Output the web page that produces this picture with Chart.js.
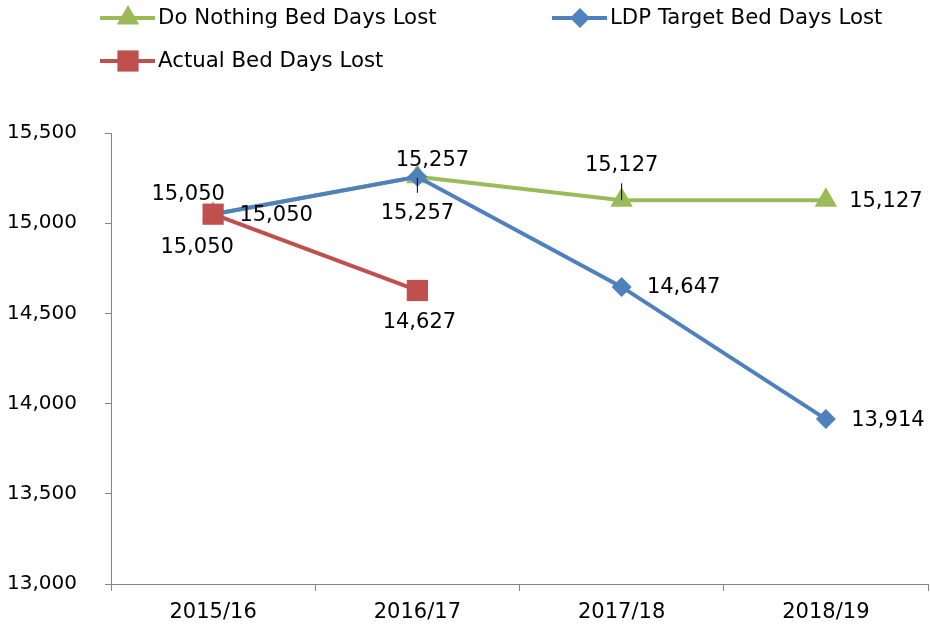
<html>
  <head>
    <meta charset="utf-8" />
    <title>Bed Days Lost</title>
    <script src="https://cdn.jsdelivr.net/npm/chart.js@4/dist/chart.umd.min.js"></script>
    <style>
      html, body {
        margin: 0;
        padding: 0;
        background: white;
        overflow: hidden;
      }
      #wrap {
        width: 930px;
        height: 633px;
      }
      canvas {
        display: block;
      }
    </style>
  </head>
  <body>
    <div id="wrap"><canvas id="bedChart"></canvas></div>

    <script>
      // data
      var years = ["2015/16", "2016/17", "2017/18", "2018/19"];
      var doNothing = [15050, 15257, 15127, 15127];
      var ldpTarget = [15050, 15257, 14647, 13914];
      var actual = [15050, 14627, null, null];
      var yTicks = [13000, 13500, 14000, 14500, 15000, 15500];

      var green = "#9BBB59";
      var blue = "#4F81BD";
      var red = "#C0504D";
      var font = "DejaVu Sans";

      // where each value label sits relative to its point (px), plus optional leader line
      var labelOffsets = [
        [{ dx: -25, dy: -20 }, { dx: 0, dy: 37, lead: [1, 16] }, { dx: 0, dy: -35, lead: [-17, 0] }, { dx: 60, dy: 1 }],
        [{ dx: 63, dy: 1 }, { dx: 15, dy: -16 }, { dx: 62, dy: 1 }, { dx: 62, dy: 1 }],
        [{ dx: -16, dy: 33 }, { dx: 2, dy: 32 }, null, null]
      ];

      function fmt(v) {
        return v.toLocaleString("en-US");
      }

      // value labels drawn at the library's point positions
      var valueLabels = {
        id: "valueLabels",
        afterDatasetsDraw: function (chart) {
          var ctx = chart.ctx;
          ctx.save();
          ctx.font = "21px '" + font + "'";
          ctx.fillStyle = "#000";
          ctx.textAlign = "center";
          ctx.textBaseline = "middle";
          chart.data.datasets.forEach(function (ds, di) {
            var meta = chart.getDatasetMeta(di);
            meta.data.forEach(function (pt, i) {
              var v = ds.data[i];
              var off = labelOffsets[di][i];
              if (v == null || !off) return;
              if (off.lead) {
                ctx.strokeStyle = "#000";
                ctx.lineWidth = 1;
                ctx.beginPath();
                ctx.moveTo(pt.x, pt.y + off.lead[0]);
                ctx.lineTo(pt.x, pt.y + off.lead[1]);
                ctx.stroke();
              }
              ctx.fillText(fmt(v), pt.x + off.dx, pt.y + off.dy);
            });
          });
          ctx.restore();
        }
      };

      // two-column legend like the original
      var legendSpots = [
        { x: 100, y: 18 },
        { x: 552, y: 18 },
        { x: 100, y: 61 }
      ];
      var sideLegend = {
        id: "sideLegend",
        afterDraw: function (chart) {
          var ctx = chart.ctx;
          ctx.save();
          chart.data.datasets.forEach(function (ds, di) {
            var s = legendSpots[di];
            ctx.strokeStyle = ds.borderColor;
            ctx.lineWidth = 4;
            ctx.beginPath();
            ctx.moveTo(s.x, s.y);
            ctx.lineTo(s.x + 55, s.y);
            ctx.stroke();
            ctx.fillStyle = ds.pointBackgroundColor;
            ctx.strokeStyle = ds.pointBackgroundColor;
            Chart.helpers.drawPoint(ctx, {
              pointStyle: ds.pointStyle,
              radius: ds.pointRadius,
              rotation: 0,
              borderWidth: 0
            }, s.x + 28, s.y);
            ctx.fillStyle = "#000";
            ctx.font = "21.3px '" + font + "'";
            ctx.textAlign = "left";
            ctx.textBaseline = "middle";
            ctx.fillText(ds.label, s.x + 58, s.y);
          });
          ctx.restore();
        }
      };

      var bedChart = new Chart(document.getElementById("bedChart"), {
        type: "line",
        data: {
          labels: years,
          datasets: [
            {
              label: "Do Nothing Bed Days Lost",
              data: doNothing,
              borderColor: green,
              backgroundColor: green,
              pointBackgroundColor: green,
              pointBorderWidth: 0,
              pointStyle: "triangle",
              pointRadius: 13,
              borderWidth: 4,
              order: 3
            },
            {
              label: "LDP Target Bed Days Lost",
              data: ldpTarget,
              borderColor: blue,
              backgroundColor: blue,
              pointBackgroundColor: blue,
              pointBorderWidth: 0,
              pointStyle: "rectRot",
              pointRadius: 10,
              borderWidth: 4,
              order: 2
            },
            {
              label: "Actual Bed Days Lost",
              data: actual,
              borderColor: red,
              backgroundColor: red,
              pointBackgroundColor: red,
              pointBorderWidth: 0,
              pointStyle: "rect",
              pointRadius: 15,
              borderWidth: 4,
              order: 1
            }
          ]
        },
        options: {
          responsive: true,
          maintainAspectRatio: false,
          animation: false,
          layout: {
            autoPadding: false,
            padding: { top: 133, right: 2, left: 0, bottom: 0 }
          },
          plugins: {
            legend: { display: false },
            tooltip: { enabled: false }
          },
          scales: {
            x: {
              offset: true,
              grid: {
                offset: true,
                drawOnChartArea: false,
                tickLength: 7,
                color: "#868686"
              },
              border: { color: "#868686", width: 1 },
              ticks: {
                padding: 9,
                color: "#000",
                font: { family: font, size: 21 }
              },
              afterFit: function (scale) {
                scale.height = 49;
                scale.paddingLeft = 0;
                scale.paddingRight = 0;
              }
            },
            y: {
              min: 13000,
              max: 15500,
              afterBuildTicks: function (scale) {
                scale.ticks = yTicks.map(function (v) { return { value: v }; });
              },
              grid: {
                drawOnChartArea: false,
                tickLength: 6,
                color: "#868686"
              },
              border: { color: "#868686", width: 1 },
              ticks: {
                padding: 28,
                color: "#000",
                font: { family: font, size: 20 },
                callback: function (v) { return fmt(v); }
              },
              afterFit: function (scale) {
                scale.width = 111;
                scale.paddingTop = 0;
                scale.paddingBottom = 0;
              }
            }
          }
        },
        plugins: [valueLabels, sideLegend]
      });
    </script>
  </body>
</html>
